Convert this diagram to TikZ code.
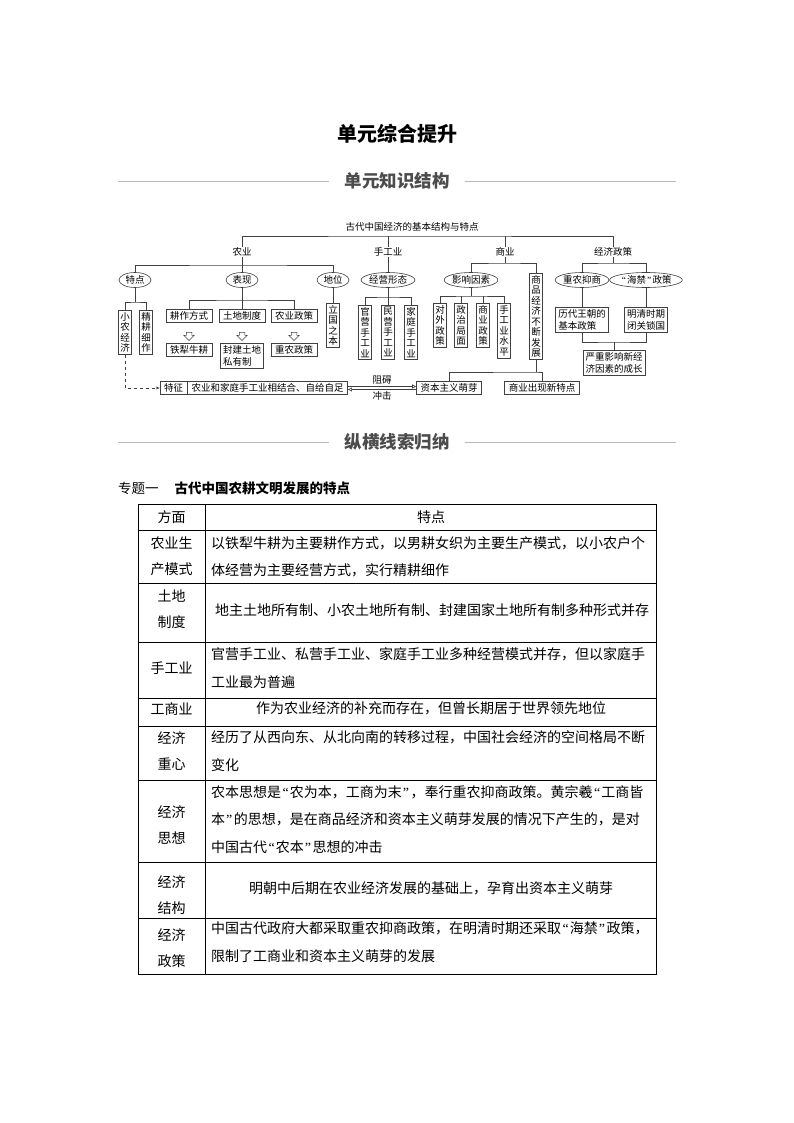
\documentclass[tikz,border=0pt]{standalone}
\usepackage{fontspec}
\setmainfont{Noto Sans CJK SC}
\newfontfamily\qtfont{Liberation Serif}
\usetikzlibrary{positioning,shapes.geometric,shapes.arrows,arrows.meta}
\newcommand\dgfont{\fontsize{9.5}{10.5}\selectfont}
\newcommand\dgtwofont{\fontsize{9.5}{12.5}\selectfont}
\newcommand\colafont{\fontsize{14}{26}\selectfont}
\newcommand\colbfont{\fontsize{14}{27.5}\selectfont}
\newcommand\lqt{\kern1.5pt{\qtfont “}\kern1pt}
\newcommand\rqt{\kern1pt{\qtfont ”}\kern1.5pt}
\tikzset{
  link/.style={draw=black!75, line width=0.6pt},
  plain/.style={inner sep=0pt, font=\dgfont},
  oval/.style={ellipse, draw=black!75, line width=0.6pt, inner sep=0pt, minimum width=32pt, minimum height=15pt, font=\dgfont},
  hbox/.style={draw=black!75, line width=0.6pt, inner xsep=4pt, inner ysep=2pt, font=\dgfont},
  vbox/.style={draw=black!75, line width=0.6pt, align=center, inner xsep=2pt, inner ysep=2pt, font=\dgfont},
  tbox/.style={draw=black!75, line width=0.6pt, align=left, inner xsep=2.5pt, inner ysep=2pt, font=\dgtwofont},
  harrow/.style={single arrow, draw=black!75, line width=0.5pt, shape border rotate=270, minimum height=8pt, inner sep=2.5pt, single arrow head extend=2.5pt},
  sechead/.style={font=\fontsize{17.5}{20}\selectfont\bfseries, text=black!70, inner xsep=15pt},
  rule/.style={draw=gray!55, line width=0.8pt},
  tline/.style={draw=black, line width=0.8pt},
  cella/.style={inner sep=0pt, align=center, font=\colafont},
  cellb/.style={inner sep=0pt, align=left, font=\colbfont, anchor=west},
  cellc/.style={inner sep=0pt, align=center, font=\colbfont}
}
\begin{document}
\begin{tikzpicture}[x=1pt,y=-1pt]
\useasboundingbox (0,0) rectangle (794,1123);
\node[font=\fontsize{20}{24}\selectfont\bfseries] (ttl) at (397,134) {单元综合提升};
\node[sechead] (sec1) at (397,181) {单元知识结构};
\coordinate (r1l) at (118,181);
\coordinate (r1r) at (676,181);
\draw[rule] (sec1) -- (r1l);
\draw[rule] (sec1) -- (r1r);

% tree
\node[plain] (root) at (412,227) {古代中国经济的基本结构与特点};
\node[plain] (ny) at (242,252) {农业};
\node[plain] (sg) at (388,252) {手工业};
\node[plain] (sy) at (505,252) {商业};
\node[plain] (zc) at (613,252) {经济政策};
\coordinate (bus0) at (412,236);
\draw[link] (ny.north) |- (bus0) -| (zc.north);
\draw[link] (sg.north) -- (sg.north |- bus0);
\draw[link] (sy.north) -- (sy.north |- bus0);

\node[oval] (td) at (135,280) {特点};
\node[oval] (bx) at (242,280) {表现};
\node[oval] (dw) at (333,280) {地位};
\coordinate (bus1) at (242,265);
\draw[link] (ny.south) -- (bx.north);
\draw[link] (td.north) |- (bus1) -| (dw.north);

\node[vbox, anchor=north] (xn) at (125,310) {小\\农\\经\\济};
\node[vbox, anchor=north] (jg) at (146,310) {精\\耕\\细\\作};
\coordinate (bus2) at (135,302);
\draw[link] (td.south) -- (bus2);
\draw[link] (xn.north) |- (bus2) -| (jg.north);

\node[hbox] (gz) at (189,316) {耕作方式};
\node[hbox] (tz) at (242,316) {土地制度};
\node[hbox] (nz) at (294,316) {农业政策};
\coordinate (bus3) at (242,300);
\draw[link] (bx.south) -- (tz.north);
\draw[link] (gz.north) |- (bus3) -| (nz.north);
\node[harrow] (ha1) at (189,335) {};
\node[harrow] (ha2) at (242,335) {};
\node[harrow] (ha3) at (294,335) {};
\node[hbox, anchor=north] (tl) at (189,343) {铁犁牛耕};
\node[tbox, anchor=north] (fj) at (242,343) {封建土地\\私有制};
\node[hbox, anchor=north] (zn) at (294,343) {重农政策};

\node[vbox, anchor=north] (lg) at (333,303) {立\\国\\之\\本};
\draw[link] (dw.south) -- (lg.north);

\node[oval] (jy) at (388,280) {经营形态};
\node[vbox, anchor=north] (gy) at (365,305) {官\\营\\手\\工\\业};
\node[vbox, anchor=north] (my) at (388,305) {民\\营\\手\\工\\业};
\node[vbox, anchor=north] (jt) at (411,305) {家\\庭\\手\\工\\业};
\coordinate (bus4) at (388,297);
\draw[link] (sg.south) -- (jy.north);
\draw[link] (jy.south) -- (my.north);
\draw[link] (gy.north) |- (bus4) -| (jt.north);

\node[oval] (yx) at (471,280) {影响因素};
\node[vbox, anchor=north] (sp) at (536,273) {商\\品\\经\\济\\不\\断\\发\\展};
\coordinate (bus5) at (505,263);
\draw[link] (sy.south) -- (bus5);
\draw[link] (yx.north) |- (bus5) -| (sp.north);
\node[vbox, anchor=north] (dwzc) at (440,303) {对\\外\\政\\策};
\node[vbox, anchor=north] (zzjm) at (461,303) {政\\治\\局\\面};
\node[vbox, anchor=north] (syzc) at (483,303) {商\\业\\政\\策};
\node[vbox, anchor=north] (sgsp) at (504,303) {手\\工\\业\\水\\平};
\coordinate (bus6) at (471,296);
\draw[link] (yx.south) -- (bus6);
\draw[link] (dwzc.north) |- (bus6) -| (sgsp.north);
\draw[link] (zzjm.north) -- (zzjm.north |- bus6);
\draw[link] (syzc.north) -- (syzc.north |- bus6);

\node[oval] (zy) at (582,280) {重农抑商};
\node[oval] (hj) at (646,280) {\lqt 海禁\rqt 政策};
\coordinate (bus7) at (613,263);
\draw[link] (zc.south) -- (bus7);
\draw[link] (zy.north) |- (bus7) -| (hj.north);
\node[tbox] (ld) at (582,320) {历代王朝的\\基本政策};
\node[tbox] (mq) at (646,320) {明清时期\\闭关锁国};
\draw[link] (zy.south) -- (ld.north);
\draw[link] (hj.south) -- (mq.north);
\coordinate (bus8) at (614,342);
\draw[link] (ld.south) |- (bus8) -| (mq.south);
\node[tbox, anchor=north] (yz) at (614,350) {严重影响新经\\济因素的成长};
\draw[link] (bus8) -- (yz.north);

\node[hbox] (tzl) at (173.5,388) {特征};
\node[hbox, right=0pt of tzl] (tzr) {农业和家庭手工业相结合、自给自足};
\draw[link, dashed, -{Stealth[length=4pt]}] (xn.south) |- (tzl.west);
\node[hbox] (zb) at (449,388) {资本主义萌芽};
\node[hbox] (sx) at (542,388) {商业出现新特点};
\coordinate (bus9) at (536,372);
\draw[link] (sp.south) -- (bus9);
\draw[link] (zb.north) |- (bus9) -| (sx.north);
\draw[link, -{Triangle[open,length=4pt,width=4pt]}] ([yshift=1.5pt]tzr.east) -- node[plain, above=2pt] {阻碍} ([yshift=1.5pt]zb.west);
\draw[link, -{Triangle[open,length=4pt,width=4pt]}] ([yshift=-1.5pt]zb.west) -- node[plain, below=2pt] {冲击} ([yshift=-1.5pt]tzr.east);

\node[sechead] (sec2) at (397,442) {纵横线索归纳};
\coordinate (r2l) at (118,442);
\coordinate (r2r) at (676,442);
\draw[rule] (sec2) -- (r2l);
\draw[rule] (sec2) -- (r2r);

% table
\node[anchor=west, inner sep=0pt, font=\fontsize{13.5}{16}\selectfont] (zt) at (118,488) {专题一\hspace{16pt}\textbf{古代中国农耕文明发展的特点}};
\draw[tline] (138,504) rectangle (656,974);
\foreach \y in {530,583,642,698,726,780,862,918}
  \draw[tline] (138,\y) -- (656,\y);
\draw[tline] (205,504) -- (205,974);

\node[cella] (asp0) at (171.5,517) {方面};
\node[cellc] (fea0) at (431,517) {特点};
\node[cella] (asp1) at (171.5,556.5) {农业生\\产模式};
\node[cellb] (fea1) at (211,557) {以铁犁牛耕为主要耕作方式，以男耕女织为主要生产模式，以小农户个\\体经营为主要经营方式，实行精耕细作};
\node[cella] (asp2) at (171.5,609) {土地\\制度};
\node[cellc] (fea2) at (432,610) {地主土地所有制、小农土地所有制、封建国家土地所有制多种形式并存};
\node[cella] (asp3) at (171.5,668.5) {手工业};
\node[cellb] (fea3) at (211,668) {官营手工业、私营手工业、家庭手工业多种经营模式并存，但以家庭手\\工业最为普遍};
\node[cella] (asp4) at (171.5,709) {工商业};
\node[cellc] (fea4) at (431,708) {作为农业经济的补充而存在，但曾长期居于世界领先地位};
\node[cella] (asp5) at (171.5,751) {经济\\重心};
\node[cellb] (fea5) at (211,751) {经历了从西向东、从北向南的转移过程，中国社会经济的空间格局不断\\变化};
\node[cella] (asp6) at (171.5,825) {经济\\思想};
\node[cellb] (fea6) at (211,819.5) {农本思想是\lqt 农为本，工商为末\rqt ，奉行重农抑商政策。黄宗羲\lqt 工商皆\\本\rqt 的思想，是在商品经济和资本主义萌芽发展的情况下产生的，是对\\中国古代\lqt 农本\rqt 思想的冲击};
\node[cella] (asp7) at (171.5,895) {经济\\结构};
\node[cellc] (fea7) at (431,888) {明朝中后期在农业经济发展的基础上，孕育出资本主义萌芽};
\node[cella] (asp8) at (171.5,948) {经济\\政策};
\node[cellb] (fea8) at (211,942) {中国古代政府大都采取重农抑商政策，在明清时期还采取\lqt 海禁\rqt 政策，\\限制了工商业和资本主义萌芽的发展};
\end{tikzpicture}
\end{document}
